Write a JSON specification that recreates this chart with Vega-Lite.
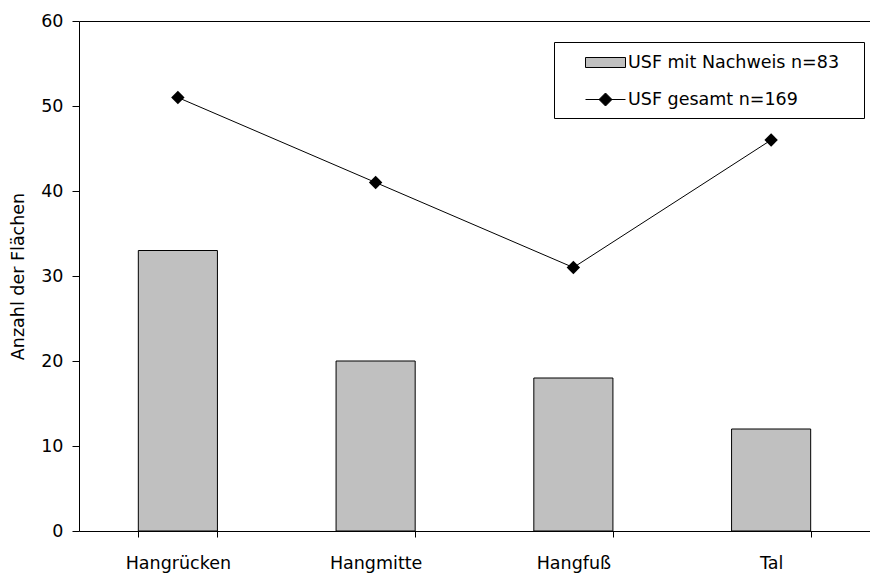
{
  "$schema": "https://vega.github.io/schema/vega-lite/v6.json",
  "width": 791,
  "height": 510,
  "autosize": {"type": "none"},
  "padding": {"left": 79, "top": 21, "right": 0, "bottom": 42},
  "config": {
    "font": "DejaVu Sans",
    "view": {"stroke": null},
    "axis": {"labelColor": "black", "domainColor": "black", "tickColor": "black", "tickOpacity": 1, "tickWidth": 1, "ticks": true, "labelFontSize": 17.5, "titleFontSize": 17.5, "titleFontWeight": "normal", "titleColor": "black"}
  },
  "data": {
    "values": [
      {"lage": "Hangrücken", "nachweis": 33, "gesamt": 51},
      {"lage": "Hangmitte", "nachweis": 20, "gesamt": 41},
      {"lage": "Hangfuß", "nachweis": 18, "gesamt": 31},
      {"lage": "Tal", "nachweis": 12, "gesamt": 46}
    ]
  },
  "encoding": {
    "x": {
      "field": "lage",
      "type": "nominal",
      "sort": null,
      "scale": {"paddingInner": 0.6, "paddingOuter": 0.3},
      "axis": {"title": null, "labelAngle": 0, "ticks": true, "tickBand": "extent", "tickSize": 6, "labelPadding": 17}
    }
  },
  "layer": [
    {
      "mark": {"type": "bar", "stroke": "black", "strokeWidth": 1},
      "encoding": {
        "y": {
          "field": "nachweis",
          "type": "quantitative",
          "scale": {"domain": [0, 60]},
          "axis": {
            "title": "Anzahl der Flächen",
            "values": [0, 10, 20, 30, 40, 50, 60],
            "ticks": true,
            "tickSize": 7,
            "labelPadding": 9,
            "titlePadding": 13,
            "grid": true,
            "gridColor": "black",
            "gridOpacity": {"condition": {"test": "datum.value === 60", "value": 1}, "value": 0}
          }
        },
        "color": {
          "datum": "USF mit Nachweis n=83",
          "scale": {"domain": ["USF mit Nachweis n=83", "USF gesamt n=169"], "range": ["#c0c0c0", "black"]},
          "legend": {
            "title": "\u200b",
            "titleOrient": "right",
            "titlePadding": 15,
            "titleFontSize": 1,
            "orient": "none",
            "legendX": 475,
            "legendY": 21,
            "padding": 10,
            "strokeColor": "black",
            "fillColor": "white",
            "symbolSize": 400,
            "rowPadding": 18,
            "labelOffset": 43,
            "labelFontSize": 17.5,
            "labelColor": "black",
            "labelLimit": 400,
            "symbolStrokeColor": "black",
            "symbolStrokeWidth": 1,
            "encode": {
              "symbols": {
                "update": {
                  "shape": {"signal": "datum.value === 'USF gesamt n=169' ? 'M1.1,0H5.1M3.1,-0.65L3.75,0L3.1,0.65L2.45,0Z' : 'M1.1,-0.5H5.1V0.5H1.1Z'"},
                  "stroke": {"value": "black"},
                  "strokeWidth": {"value": 1},
                  "opacity": {"value": 1}
                }
              }
            }
          }
        }
      }
    },
    {
      "mark": {"type": "line", "color": "black", "strokeWidth": 1, "point": {"shape": "diamond", "size": 180, "color": "black", "filled": true}},
      "encoding": {
        "y": {"field": "gesamt", "type": "quantitative"}
      }
    }
  ]
}
